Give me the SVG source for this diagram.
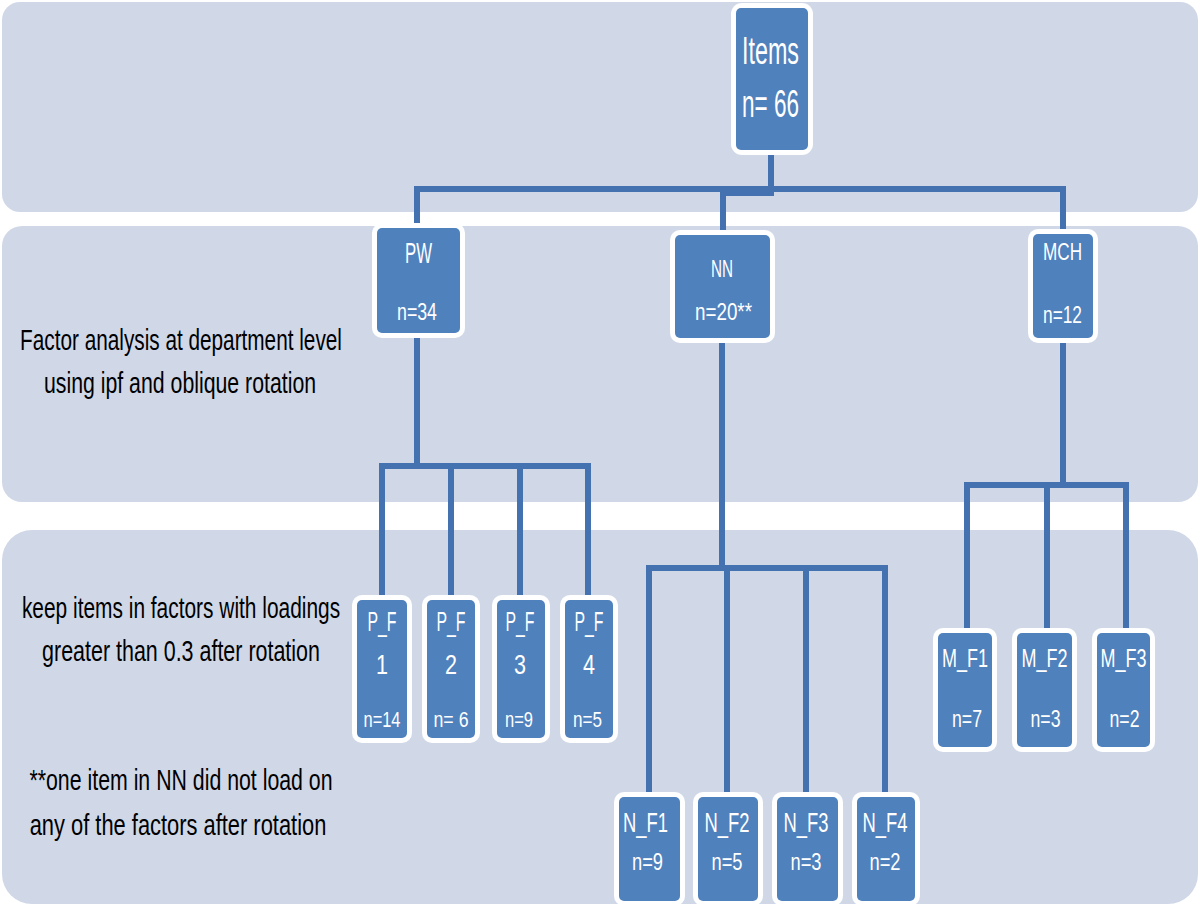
<svg xmlns="http://www.w3.org/2000/svg" width="1200" height="906" viewBox="0 0 1200 906">
<style>
.band{fill:#D0D8E8}
.outer{fill:#FFFFFF}
.box{fill:#4F81BD}
.conn{fill:none;stroke:#4472B0;stroke-width:6;stroke-linejoin:miter}
.t{font-family:"Liberation Sans",Arial,sans-serif;fill:#FFFFFF;text-anchor:middle}
.note{font-family:"Liberation Sans",Arial,sans-serif;fill:#000000;text-anchor:middle;font-size:29px}
</style>
<rect width="1200" height="906" fill="#FFFFFF"/>
<g id="bands">
<rect class="band" x="2" y="2" width="1196" height="210" rx="18"/>
<rect class="band" x="2" y="226" width="1196" height="276" rx="20"/>
<rect class="band" x="2" y="530" width="1196" height="374" rx="30"/>
</g>
<g id="notes">
<text class="note" transform="matrix(0.72,0,0,1,181,0)" x="0" y="350" textLength="447" lengthAdjust="spacingAndGlyphs">Factor analysis at department level</text>
<text class="note" transform="matrix(0.72,0,0,1,180,0)" x="0" y="393" textLength="378" lengthAdjust="spacingAndGlyphs">using ipf and oblique rotation</text>
<text class="note" transform="matrix(0.72,0,0,1,181,0)" x="0" y="618" textLength="442" lengthAdjust="spacingAndGlyphs">keep items in factors with loadings</text>
<text class="note" transform="matrix(0.72,0,0,1,181,0)" x="0" y="661" textLength="386" lengthAdjust="spacingAndGlyphs">greater than 0.3 after rotation</text>
<text class="note" transform="matrix(0.72,0,0,1,181,0)" x="0" y="790" textLength="421" lengthAdjust="spacingAndGlyphs">**one item in NN did not load on</text>
<text class="note" transform="matrix(0.72,0,0,1,178,0)" x="0" y="835" textLength="412" lengthAdjust="spacingAndGlyphs">any of the factors after rotation</text>
</g>
<g id="connectors">
<path class="conn" d="M771 150 V189 H417 V228"/>
<path class="conn" d="M771 150 V189 H1063 V234"/>
<path class="conn" d="M771 150 V193 H723 V235"/>
<path class="conn" d="M417 333 V466 H382 V600"/>
<path class="conn" d="M417 466 H451 V600"/>
<path class="conn" d="M417 466 H520 V600"/>
<path class="conn" d="M417 466 H588 V600"/>
<path class="conn" d="M722 338 V568 H649 V797"/>
<path class="conn" d="M722 568 H727 V797"/>
<path class="conn" d="M722 568 H806 V797"/>
<path class="conn" d="M722 568 H885 V797"/>
<path class="conn" d="M1063 338 V485 H967 V633"/>
<path class="conn" d="M1063 485 H1047 V633"/>
<path class="conn" d="M1063 485 H1126 V633"/>
</g>
<g id="node-items">
<rect class="outer" x="731" y="3" width="82" height="152" rx="11"/>
<rect class="box" x="736" y="8" width="72" height="142" rx="5"/>
<text class="t" x="770.5" y="64" font-size="38" textLength="57" lengthAdjust="spacingAndGlyphs">Items</text>
<text class="t" x="770.5" y="117" font-size="38" textLength="57" lengthAdjust="spacingAndGlyphs">n= 66</text>
</g>
<g id="node-pw">
<rect class="outer" x="372" y="223" width="93" height="115" rx="10"/>
<rect class="box" x="377" y="228" width="83" height="105" rx="5"/>
<text class="t" x="418.5" y="263" font-size="29" textLength="27" lengthAdjust="spacingAndGlyphs">PW</text>
<text class="t" x="417" y="320" font-size="24" textLength="40" lengthAdjust="spacingAndGlyphs">n=34</text>
</g>
<g id="node-nn">
<rect class="outer" x="670" y="230" width="105" height="113" rx="10"/>
<rect class="box" x="675" y="235" width="95" height="103" rx="5"/>
<text class="t" x="722" y="277" font-size="23" textLength="22" lengthAdjust="spacingAndGlyphs">NN</text>
<text class="t" x="723.5" y="320" font-size="24" textLength="57" lengthAdjust="spacingAndGlyphs">n=20**</text>
</g>
<g id="node-mch">
<rect class="outer" x="1028" y="229" width="70" height="114" rx="10"/>
<rect class="box" x="1033" y="234" width="60" height="104" rx="5"/>
<text class="t" x="1062.5" y="260" font-size="24" textLength="39" lengthAdjust="spacingAndGlyphs">MCH</text>
<text class="t" x="1062.5" y="323" font-size="24" textLength="39" lengthAdjust="spacingAndGlyphs">n=12</text>
</g>
<g id="node-pf1">
<rect class="outer" x="352" y="595" width="60" height="148" rx="10"/>
<rect class="box" x="357" y="600" width="50" height="138" rx="5"/>
<text class="t" x="382" y="631" font-size="27" textLength="29" lengthAdjust="spacingAndGlyphs">P_F</text>
<text class="t" x="382" y="674" font-size="28" textLength="12" lengthAdjust="spacingAndGlyphs">1</text>
<text class="t" x="382" y="727" font-size="22" textLength="37" lengthAdjust="spacingAndGlyphs">n=14</text>
</g>
<g id="node-pf2">
<rect class="outer" x="422" y="595" width="58" height="148" rx="10"/>
<rect class="box" x="427" y="600" width="48" height="138" rx="5"/>
<text class="t" x="451" y="631" font-size="27" textLength="29" lengthAdjust="spacingAndGlyphs">P_F</text>
<text class="t" x="451" y="674" font-size="28" textLength="12" lengthAdjust="spacingAndGlyphs">2</text>
<text class="t" x="451" y="727" font-size="22" textLength="35" lengthAdjust="spacingAndGlyphs">n= 6</text>
</g>
<g id="node-pf3">
<rect class="outer" x="492" y="595" width="58" height="148" rx="10"/>
<rect class="box" x="497" y="600" width="48" height="138" rx="5"/>
<text class="t" x="520" y="631" font-size="27" textLength="29" lengthAdjust="spacingAndGlyphs">P_F</text>
<text class="t" x="520" y="674" font-size="28" textLength="12" lengthAdjust="spacingAndGlyphs">3</text>
<text class="t" x="519" y="727" font-size="22" textLength="28" lengthAdjust="spacingAndGlyphs">n=9</text>
</g>
<g id="node-pf4">
<rect class="outer" x="560" y="595" width="58" height="148" rx="10"/>
<rect class="box" x="565" y="600" width="48" height="138" rx="5"/>
<text class="t" x="589" y="631" font-size="27" textLength="29" lengthAdjust="spacingAndGlyphs">P_F</text>
<text class="t" x="589" y="674" font-size="28" textLength="12" lengthAdjust="spacingAndGlyphs">4</text>
<text class="t" x="587.5" y="727" font-size="22" textLength="29" lengthAdjust="spacingAndGlyphs">n=5</text>
</g>
<g id="node-nf1">
<rect class="outer" x="614" y="792" width="71" height="114" rx="10"/>
<rect class="box" x="619" y="797" width="61" height="104" rx="5"/>
<text class="t" x="645.5" y="832" font-size="28" textLength="45" lengthAdjust="spacingAndGlyphs">N_F1</text>
<text class="t" x="647.5" y="870" font-size="24" textLength="31" lengthAdjust="spacingAndGlyphs">n=9</text>
</g>
<g id="node-nf2">
<rect class="outer" x="693" y="792" width="70" height="114" rx="10"/>
<rect class="box" x="698" y="797" width="60" height="104" rx="5"/>
<text class="t" x="727" y="832" font-size="28" textLength="45" lengthAdjust="spacingAndGlyphs">N_F2</text>
<text class="t" x="727" y="870" font-size="24" textLength="31" lengthAdjust="spacingAndGlyphs">n=5</text>
</g>
<g id="node-nf3">
<rect class="outer" x="772" y="792" width="71" height="114" rx="10"/>
<rect class="box" x="777" y="797" width="61" height="104" rx="5"/>
<text class="t" x="806" y="832" font-size="28" textLength="45" lengthAdjust="spacingAndGlyphs">N_F3</text>
<text class="t" x="806" y="870" font-size="24" textLength="31" lengthAdjust="spacingAndGlyphs">n=3</text>
</g>
<g id="node-nf4">
<rect class="outer" x="852" y="792" width="68" height="114" rx="10"/>
<rect class="box" x="857" y="797" width="58" height="104" rx="5"/>
<text class="t" x="885" y="832" font-size="28" textLength="45" lengthAdjust="spacingAndGlyphs">N_F4</text>
<text class="t" x="885" y="870" font-size="24" textLength="31" lengthAdjust="spacingAndGlyphs">n=2</text>
</g>
<g id="node-mf1">
<rect class="outer" x="933" y="628" width="64" height="124" rx="10"/>
<rect class="box" x="938" y="633" width="54" height="114" rx="5"/>
<text class="t" x="965" y="667" font-size="25" textLength="46" lengthAdjust="spacingAndGlyphs">M_F1</text>
<text class="t" x="967" y="727" font-size="24" textLength="30" lengthAdjust="spacingAndGlyphs">n=7</text>
</g>
<g id="node-mf2">
<rect class="outer" x="1012" y="628" width="65" height="124" rx="10"/>
<rect class="box" x="1017" y="633" width="55" height="114" rx="5"/>
<text class="t" x="1044.5" y="667" font-size="25" textLength="46" lengthAdjust="spacingAndGlyphs">M_F2</text>
<text class="t" x="1045.5" y="727" font-size="24" textLength="30" lengthAdjust="spacingAndGlyphs">n=3</text>
</g>
<g id="node-mf3">
<rect class="outer" x="1092" y="628" width="63" height="124" rx="10"/>
<rect class="box" x="1097" y="633" width="53" height="114" rx="5"/>
<text class="t" x="1123.5" y="667" font-size="25" textLength="46" lengthAdjust="spacingAndGlyphs">M_F3</text>
<text class="t" x="1124.5" y="727" font-size="24" textLength="30" lengthAdjust="spacingAndGlyphs">n=2</text>
</g>
</svg>
